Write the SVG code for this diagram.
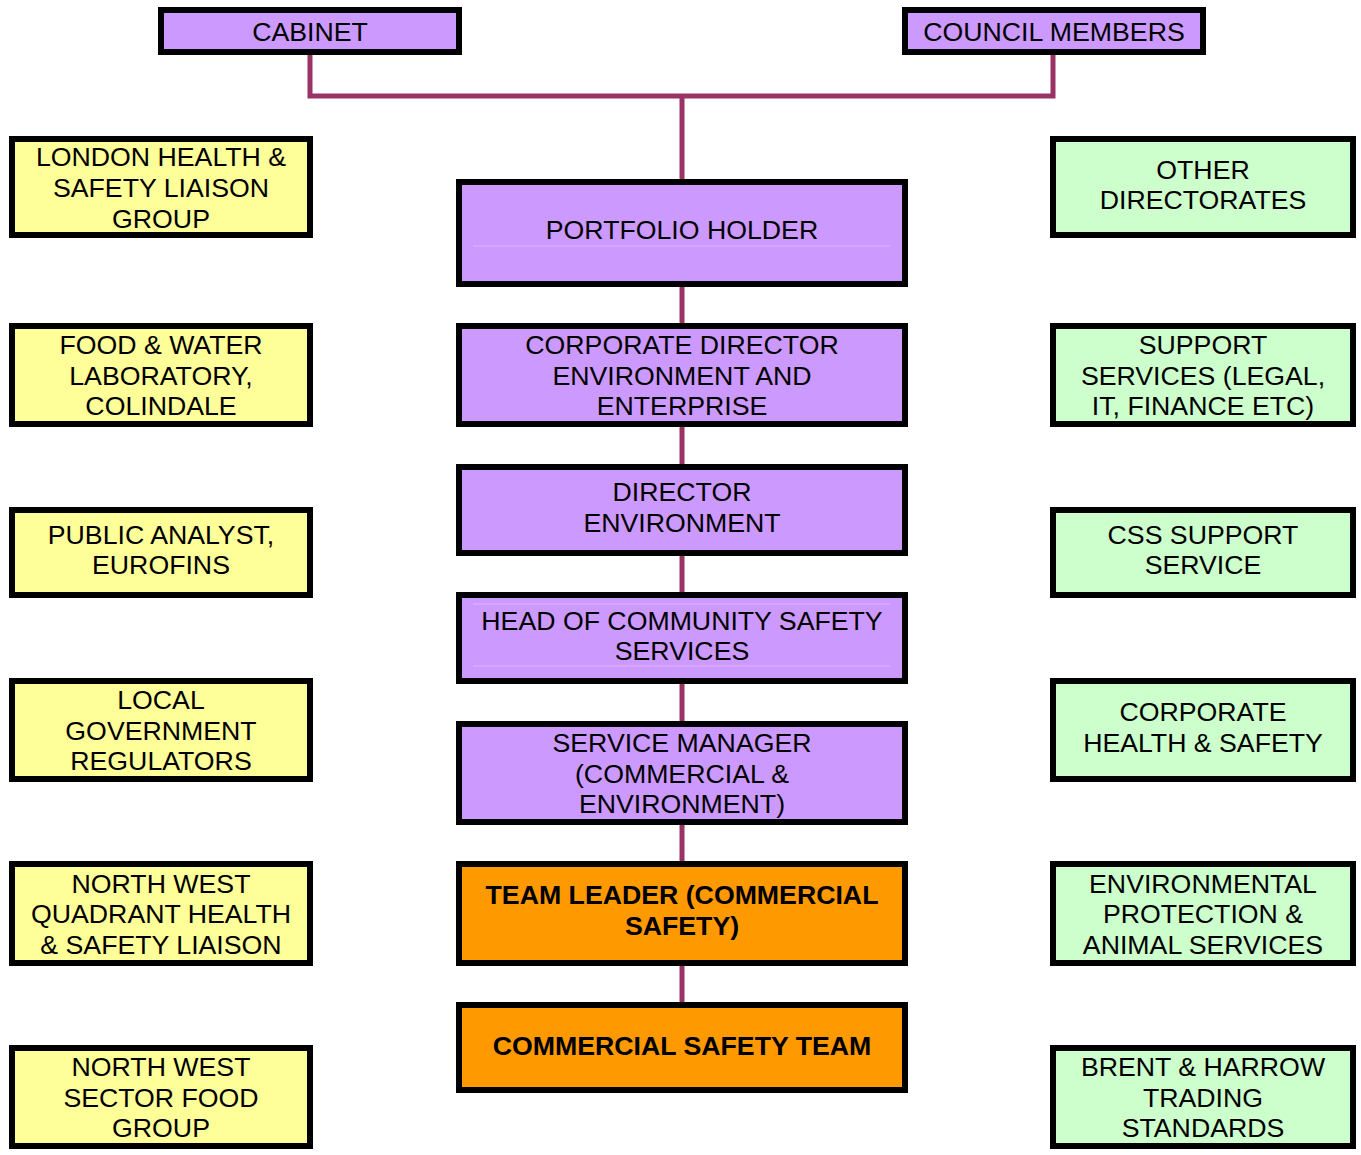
<svg xmlns="http://www.w3.org/2000/svg" width="1361" height="1155" viewBox="0 0 1361 1155">
<style>
.b{stroke:#000;stroke-width:6}
.p{fill:#CC99FF}
.y{fill:#FFFF99}
.g{fill:#CCFFCC}
.o{fill:#FF9900}
text{font-family:"Liberation Sans",Arial,sans-serif;font-size:26.7px;fill:#000;text-anchor:middle}
.bd{font-weight:bold}
.f{stroke:#DDB9FF;stroke-width:1}
</style>
<rect width="1361" height="1155" fill="#fff"/>
<g id="connectors" fill="none" stroke="#993366" stroke-width="5">
<path d="M310,55 V96 H1053 V55"/>
<path d="M682,96 V1002"/>
</g>
<g id="cabinet"><rect class="b p" x="161" y="10" width="298" height="42"/><text x="310" y="41">CABINET</text></g>
<g id="council-members"><rect class="b p" x="905" y="10" width="298" height="42"/><text x="1054" y="41">COUNCIL MEMBERS</text></g>

<g id="london-hs"><rect class="b y" x="12" y="139" width="298" height="96"/><text x="161" y="166">LONDON HEALTH &amp;</text><text x="161" y="197">SAFETY LIAISON</text><text x="161" y="228">GROUP</text></g>
<g id="food-water"><rect class="b y" x="12" y="326" width="298" height="98"/><text x="161" y="354">FOOD &amp; WATER</text><text x="161" y="385">LABORATORY,</text><text x="161" y="415">COLINDALE</text></g>
<g id="public-analyst"><rect class="b y" x="12" y="510" width="298" height="85"/><text x="161" y="544">PUBLIC ANALYST,</text><text x="161" y="574">EUROFINS</text></g>
<g id="local-gov"><rect class="b y" x="12" y="681" width="298" height="98"/><text x="161" y="709">LOCAL</text><text x="161" y="740">GOVERNMENT</text><text x="161" y="770">REGULATORS</text></g>
<g id="nw-quadrant"><rect class="b y" x="12" y="864" width="298" height="99"/><text x="161" y="893">NORTH WEST</text><text x="161" y="923">QUADRANT HEALTH</text><text x="161" y="954">&amp; SAFETY LIAISON</text></g>
<g id="nw-sector"><rect class="b y" x="12" y="1048" width="298" height="98"/><text x="161" y="1076">NORTH WEST</text><text x="161" y="1107">SECTOR FOOD</text><text x="161" y="1137">GROUP</text></g>

<g id="other-dir"><rect class="b g" x="1053" y="139" width="300" height="96"/><text x="1203" y="179">OTHER</text><text x="1203" y="209">DIRECTORATES</text></g>
<g id="support-services"><rect class="b g" x="1053" y="326" width="300" height="98"/><text x="1203" y="354">SUPPORT</text><text x="1203" y="385">SERVICES (LEGAL,</text><text x="1203" y="415">IT, FINANCE ETC)</text></g>
<g id="css-support"><rect class="b g" x="1053" y="510" width="300" height="85"/><text x="1203" y="544">CSS SUPPORT</text><text x="1203" y="574">SERVICE</text></g>
<g id="corp-hs"><rect class="b g" x="1053" y="681" width="300" height="98"/><text x="1203" y="721">CORPORATE</text><text x="1203" y="752">HEALTH &amp; SAFETY</text></g>
<g id="env-protection"><rect class="b g" x="1053" y="864" width="300" height="99"/><text x="1203" y="893">ENVIRONMENTAL</text><text x="1203" y="923">PROTECTION &amp;</text><text x="1203" y="954">ANIMAL SERVICES</text></g>
<g id="brent-harrow"><rect class="b g" x="1053" y="1048" width="300" height="98"/><text x="1203" y="1076">BRENT &amp; HARROW</text><text x="1203" y="1107">TRADING</text><text x="1203" y="1137">STANDARDS</text></g>

<g id="portfolio-holder"><rect class="b p" x="459" y="182" width="446" height="102"/><line class="f" x1="473" y1="246" x2="890" y2="246"/><text x="682" y="239">PORTFOLIO HOLDER</text></g>
<g id="corporate-director"><rect class="b p" x="459" y="326" width="446" height="98"/><text x="682" y="354">CORPORATE DIRECTOR</text><text x="682" y="385">ENVIRONMENT AND</text><text x="682" y="415">ENTERPRISE</text></g>
<g id="director-env"><rect class="b p" x="459" y="467" width="446" height="86"/><text x="682" y="501">DIRECTOR</text><text x="682" y="532">ENVIRONMENT</text></g>
<g id="head-css"><rect class="b p" x="459" y="595" width="446" height="86"/><line class="f" x1="473" y1="604" x2="890" y2="604"/><line class="f" x1="473" y1="666" x2="890" y2="666"/><text x="682" y="630">HEAD OF COMMUNITY SAFETY</text><text x="682" y="660">SERVICES</text></g>
<g id="service-manager"><rect class="b p" x="459" y="724" width="446" height="98"/><text x="682" y="752">SERVICE MANAGER</text><text x="682" y="783">(COMMERCIAL &amp;</text><text x="682" y="813">ENVIRONMENT)</text></g>
<g id="team-leader"><rect class="b o" x="459" y="864" width="446" height="99"/><text class="bd" x="682" y="904">TEAM LEADER (COMMERCIAL</text><text class="bd" x="682" y="935">SAFETY)</text></g>
<g id="commercial-safety-team"><rect class="b o" x="459" y="1005" width="446" height="85"/><text class="bd" x="682" y="1055">COMMERCIAL SAFETY TEAM</text></g>
</svg>
